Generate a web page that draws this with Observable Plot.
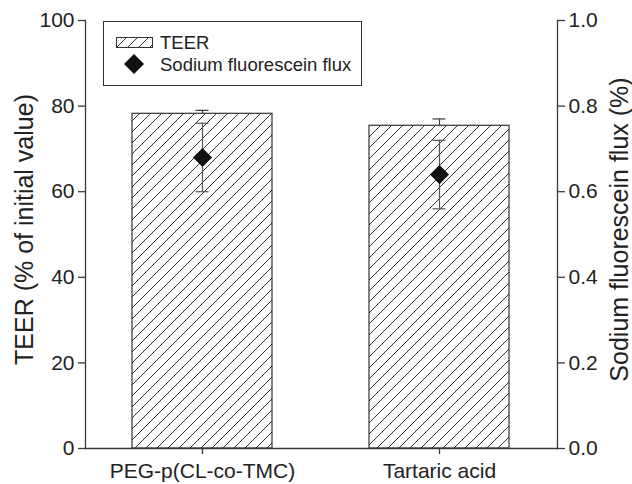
<!DOCTYPE html>
<html>
<head>
<meta charset="utf-8">
<script src="https://cdn.jsdelivr.net/npm/d3@7"></script>
<script src="https://cdn.jsdelivr.net/npm/@observablehq/plot@0.6"></script>
<style>
  body { margin: 0; background: #fff; }
  #chart { position: relative; width: 632px; height: 484px; font-family: "Liberation Sans", Arial, sans-serif; color: #222; }
  #legend { position: absolute; left: 103px; top: 21px; width: 257px; height: 63px; border: 1px solid #333; background: #fff; font-size: 18.5px; line-height: 18.5px; }
  #legend .item { position: absolute; white-space: nowrap; }
  #legend svg { position: absolute; }
</style>
</head>
<body>
<div id="chart"></div>
<script>
// Treatment groups
const groups = ["PEG-p(CL-co-TMC)", "Tartaric acid"];
// TEER after treatment (% of initial value) and its error
const teer = [78.2, 75.4];
const teerErr = [0.8, 1.6];
// Sodium fluorescein flux (%) and its error
const flux = [0.68, 0.64];
const fluxErr = [0.08, 0.08];
// Axis ticks
const teerTicks = [0, 20, 40, 60, 80, 100];
const fluxPerTeer = 100; // right axis (0–1.0) shares the left axis (0–100)

const rows = groups.map((g, i) => ({
  group: g,
  teer: teer[i], teerLo: teer[i] - teerErr[i], teerHi: teer[i] + teerErr[i],
  flux: flux[i] * fluxPerTeer,
  fluxLo: (flux[i] - fluxErr[i]) * fluxPerTeer,
  fluxHi: (flux[i] + fluxErr[i]) * fluxPerTeer
}));

const capInset = 63.5;
const ink = "#3a3a3a";

const chart = Plot.plot({
  width: 632,
  height: 484,
  marginLeft: 85,
  marginRight: 75,
  marginTop: 20,
  marginBottom: 36,
  style: { fontFamily: "Liberation Sans, Arial, sans-serif", fontSize: "21px", color: "#222", background: "#fff" },
  x: { domain: groups, paddingInner: 0.408, paddingOuter: 0.196, label: null },
  y: { domain: [0, 100], label: null },
  marks: [
    // TEER error bars (lower half sits behind the bars)
    Plot.ruleX(rows, { x: "group", y1: "teerLo", y2: "teerHi", stroke: ink, strokeWidth: 1.2 }),
    Plot.tickY(rows, { x: "group", y: "teerHi", stroke: ink, strokeWidth: 1.2, insetLeft: capInset, insetRight: capInset }),
    Plot.tickY(rows, { x: "group", y: "teerLo", stroke: ink, strokeWidth: 1.2, insetLeft: capInset, insetRight: capInset }),
    // TEER bars
    Plot.barY(rows, { x: "group", y: "teer", fill: "url(#hatch)", stroke: "#333", strokeWidth: 1.2 }),
    // Flux error bars
    Plot.ruleX(rows, { x: "group", y1: "fluxLo", y2: "fluxHi", stroke: "#555", strokeWidth: 1.2 }),
    Plot.tickY(rows, { x: "group", y: "fluxHi", stroke: "#555", strokeWidth: 1.2, insetLeft: capInset, insetRight: capInset }),
    Plot.tickY(rows, { x: "group", y: "fluxLo", stroke: "#555", strokeWidth: 1.2, insetLeft: capInset, insetRight: capInset }),
    // Flux points
    Plot.dot(rows, { x: "group", y: "flux", symbol: "diamond2", r: 8.6, fill: "#111", stroke: "none" }),
    // Axis lines
    Plot.frame({ anchor: "left", stroke: ink, strokeWidth: 1.3 }),
    Plot.frame({ anchor: "right", stroke: ink, strokeWidth: 1.3 }),
    Plot.frame({ anchor: "bottom", stroke: ink, strokeWidth: 1.3 }),
    // Axes
    Plot.axisY({ anchor: "left", ticks: teerTicks, tickSize: 7, tickPadding: 4, stroke: ink, strokeWidth: 1.3, label: null, fontSize: 21 }),
    Plot.axisY({ anchor: "right", ticks: teerTicks, tickSize: 7, tickPadding: 4, stroke: ink, strokeWidth: 1.3, label: null, fontSize: 21,
      tickFormat: d => (d / fluxPerTeer).toFixed(1) }),
    Plot.axisX({ anchor: "bottom", tickSize: 6, tickPadding: 9, stroke: ink, strokeWidth: 1.3, label: null, fontSize: 21 }),
    // Axis titles
    Plot.text(["TEER (% of initial value)"], { text: d => d, frameAnchor: "left", rotate: -90, textAnchor: "middle", lineAnchor: "middle", dx: -61, dy: -5, fontSize: 25, fill: "#222" }),
    Plot.text(["Sodium fluorescein flux (%)"], { text: d => d, frameAnchor: "right", rotate: -90, textAnchor: "middle", lineAnchor: "middle", dx: 62, dy: -5, fontSize: 25, fill: "#222" })
  ]
});

// Diagonal hatch used to fill the TEER bars
d3.select(chart).insert("defs", ":first-child").html(`
  <pattern id="hatch" patternUnits="userSpaceOnUse" width="11" height="11">
    <rect width="11" height="11" fill="#fff"></rect>
    <path d="M-2.75,2.75 L2.75,-2.75 M0,11 L11,0 M8.25,13.75 L13.75,8.25" stroke="#333" stroke-width="1"></path>
  </pattern>`);

const host = document.getElementById("chart");
host.appendChild(chart);

// Legend
const legend = document.createElement("div");
legend.id = "legend";
legend.innerHTML = `
  <svg width="37" height="11" style="left:12px; top:15px">
    <defs>
      <pattern id="hatchKey" patternUnits="userSpaceOnUse" width="11" height="11">
        <rect width="11" height="11" fill="#fff"></rect>
        <path d="M-2.75,2.75 L2.75,-2.75 M0,11 L11,0 M8.25,13.75 L13.75,8.25" stroke="#333" stroke-width="1"></path>
      </pattern>
    </defs>
    <rect x="0.5" y="0.5" width="36" height="10" fill="url(#hatchKey)" stroke="#333" stroke-width="1"></rect>
  </svg>
  <span class="item" style="left:56px; top:12px">TEER</span>
  <svg width="22" height="22" style="left:19px; top:31px">
    <path d="M11,1 L21,11 L11,21 L1,11 Z" fill="#111"></path>
  </svg>
  <span class="item" style="left:56px; top:34px">Sodium fluorescein flux</span>`;
host.appendChild(legend);
</script>
</body>
</html>
